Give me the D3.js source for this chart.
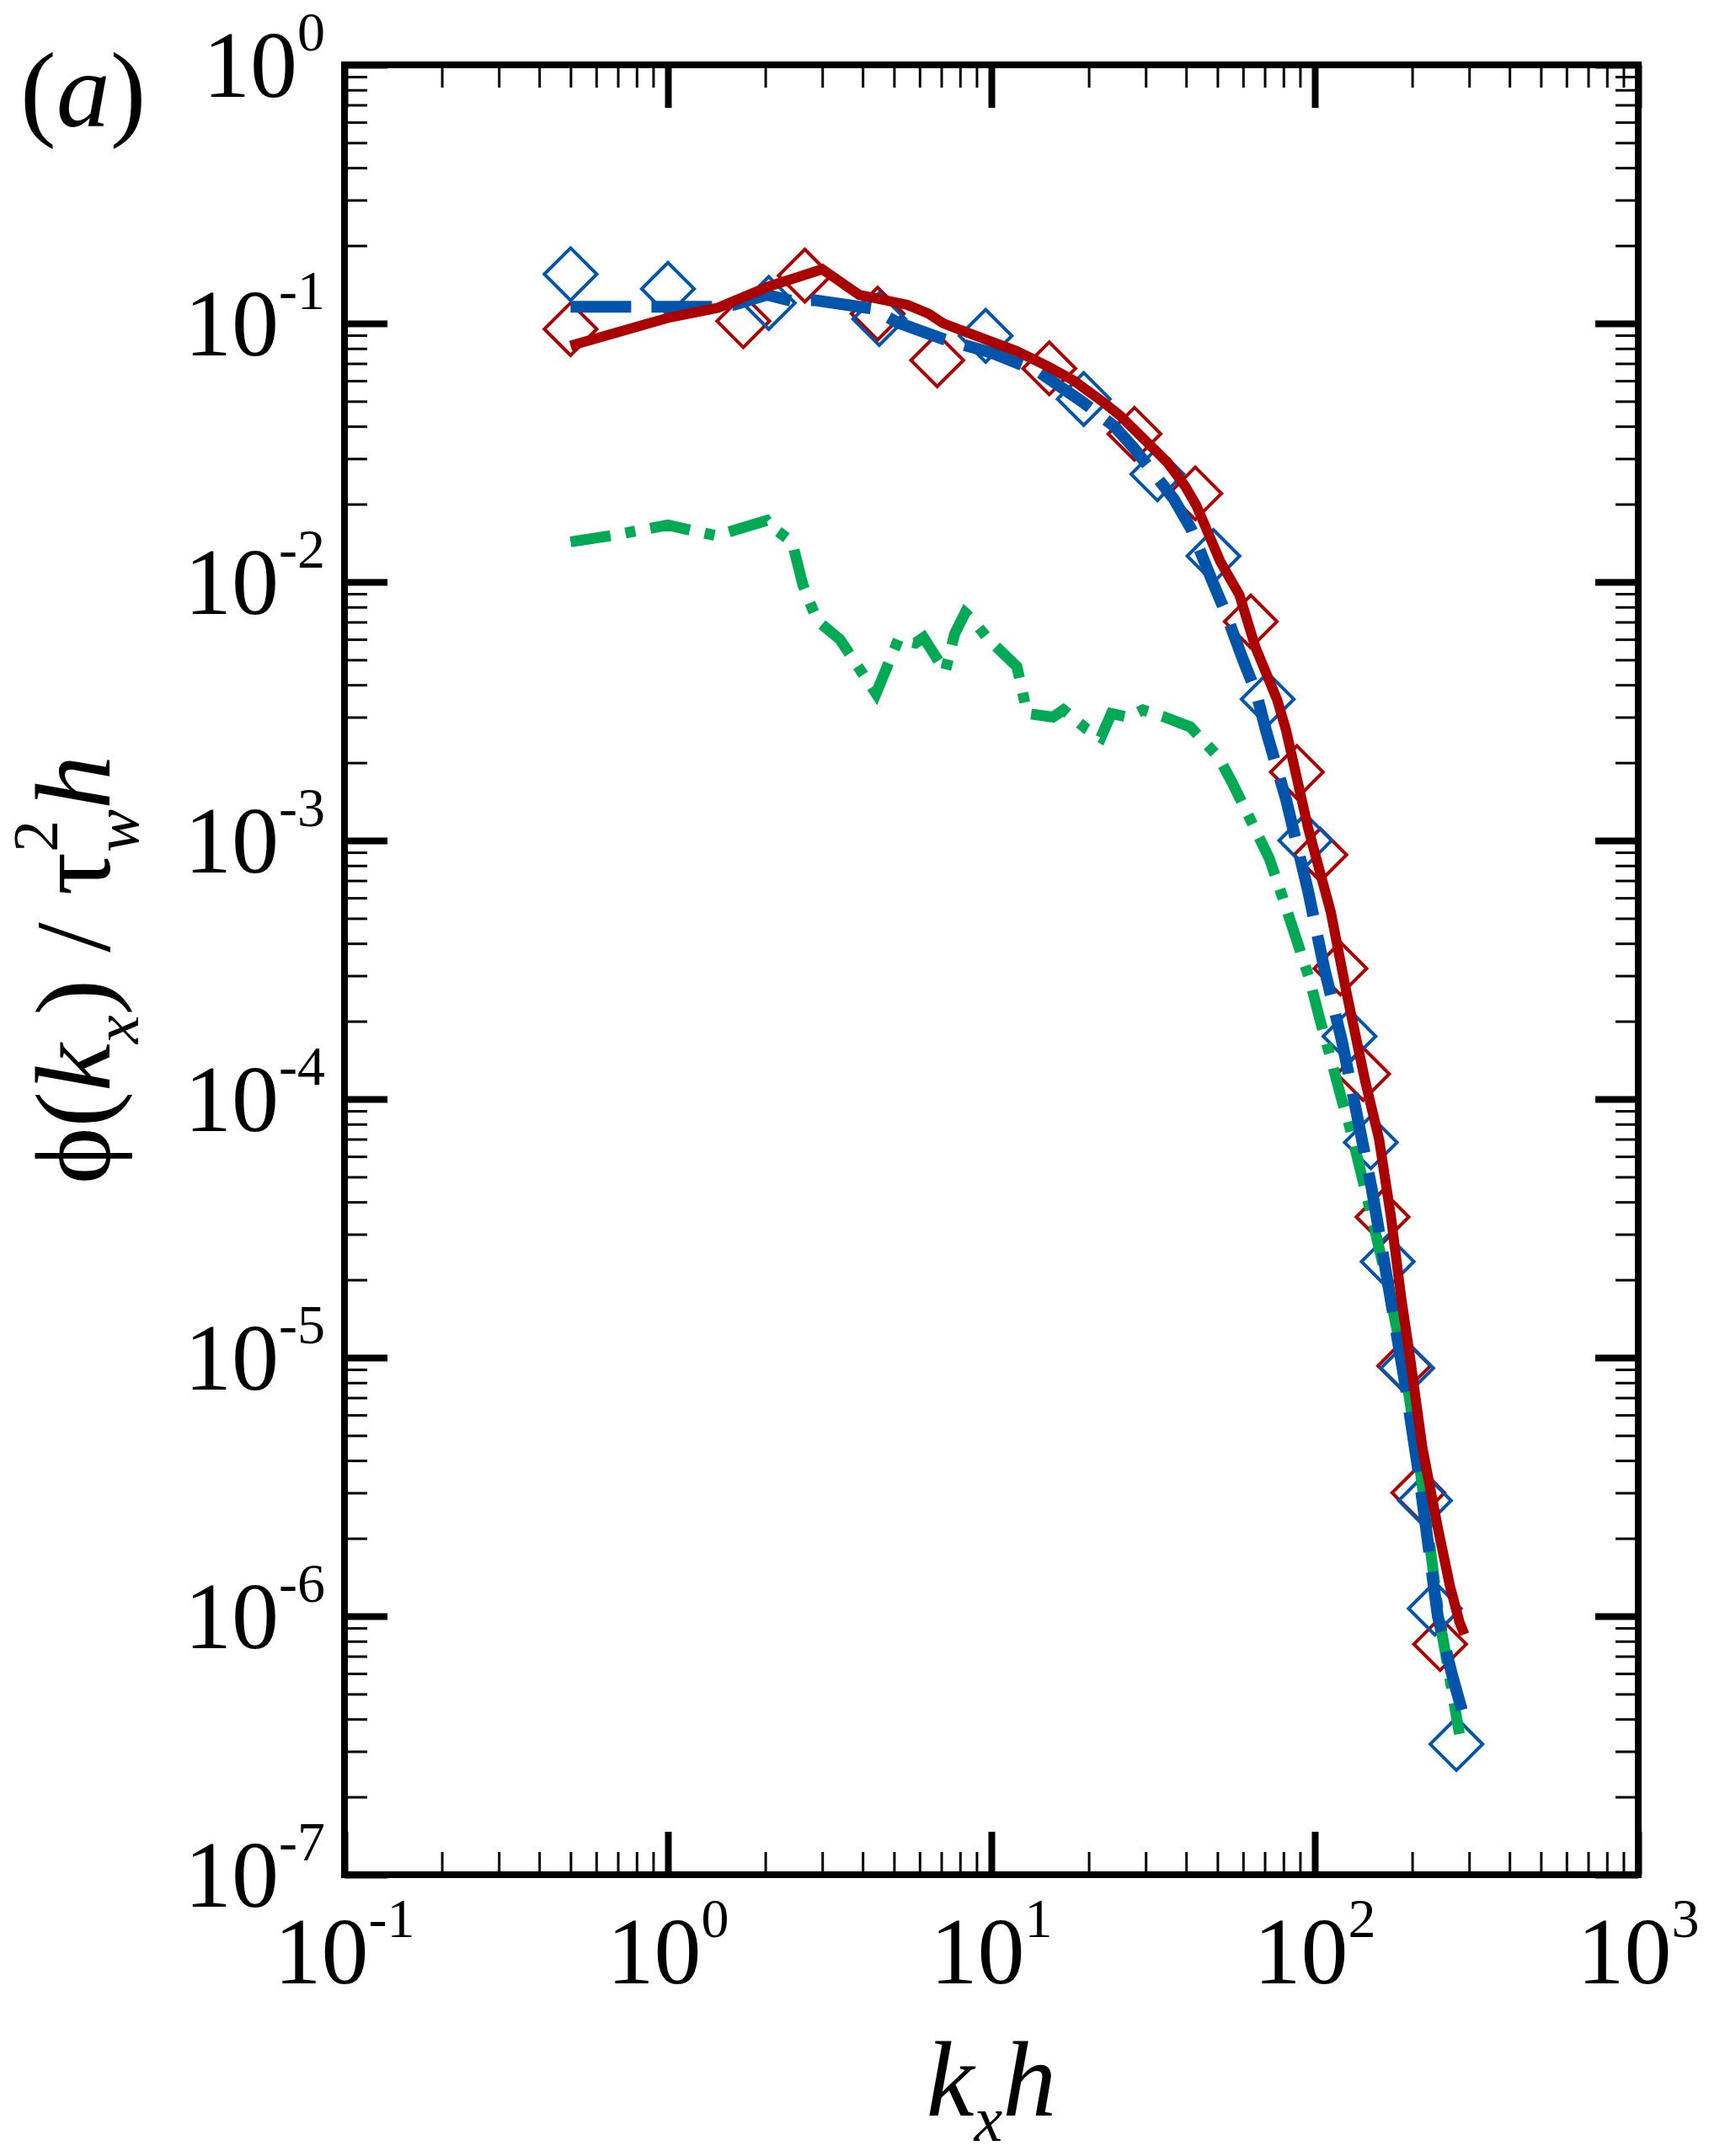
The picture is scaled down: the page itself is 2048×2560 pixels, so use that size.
<!DOCTYPE html>
<html lang="en">
<head>
<meta charset="utf-8">
<title>Spectrum</title>
<script src="https://cdnjs.cloudflare.com/ajax/libs/d3/7.8.5/d3.min.js"></script>
<style>
  body { margin: 0; background: #fff; }
  svg { display: block; }
</style>
</head>
<body>
<script>
// ---- data ----
var kxRed  = [0.5, 1.0, 1.43, 2.05, 3.0, 3.9, 5.5, 6.4, 7.1, 10, 12, 15, 18, 22, 25, 29.4, 35, 39.7, 43, 51, 58.5, 65.5, 76.5, 81.5, 95.3, 112, 126, 143, 158, 172, 185, 197, 215, 240, 262, 280, 290];
var phiRed = [0.082, 0.105, 0.115, 0.139, 0.162, 0.129, 0.118, 0.109, 0.100, 0.085, 0.078, 0.068, 0.060, 0.050, 0.044, 0.036, 0.029, 0.0235, 0.0198, 0.012, 0.0089, 0.0056, 0.0035, 0.00267, 0.00112, 0.00053, 0.00025, 0.000118, 7.0e-5, 3.5e-5, 1.7e-5, 1.0e-5, 4.5e-6, 2.2e-6, 1.3e-6, 9.5e-7, 8.5e-7];

var kxBlue  = [0.5, 1.37, 1.6, 2.02, 2.42, 2.84, 4.3, 5.1, 7.1, 10, 14, 19, 24, 27.7, 32, 36.6, 41.5, 48.3, 53, 60, 66, 70.6, 81.5, 95.3, 107, 121, 134, 150, 170, 190, 210, 240, 265, 290];
var phiBlue = [0.116, 0.116, 0.118, 0.129, 0.122, 0.123, 0.114, 0.101, 0.087, 0.077, 0.065, 0.050, 0.040, 0.0327, 0.026, 0.021, 0.016, 0.010, 0.0076, 0.0050, 0.0037, 0.00267, 0.00144, 0.00064, 0.00032, 0.00017, 9.1e-5, 4.5e-5, 1.8e-5, 8e-6, 3.5e-6, 1e-6, 6e-7, 4e-7];

var kxGreen  = [0.5, 0.665, 1.0, 1.19, 1.41, 2.02, 2.1, 2.42, 2.61, 2.89, 3.4, 3.83, 4.4, 4.86, 5.16, 5.83, 6.17, 7.2, 7.7, 8.3, 8.6, 9.8, 12, 12.9, 15.5, 16.7, 19.7, 21.8, 23.5, 26.5, 29.4, 34.4, 41.2, 50.4, 55.6, 62.7, 72.4, 79.6, 88, 96.4, 104, 112, 121, 129, 150, 170, 190, 210, 242, 260, 280];
var phiGreen = [0.0143, 0.0151, 0.0166, 0.0158, 0.0151, 0.0173, 0.0163, 0.0143, 0.0098, 0.0071, 0.0060, 0.0048, 0.0037, 0.0050, 0.0060, 0.0058, 0.0061, 0.0045, 0.0063, 0.0076, 0.0073, 0.0060, 0.0047, 0.0031, 0.0030, 0.0032, 0.0027, 0.0025, 0.0031, 0.0030, 0.0032, 0.0030, 0.00275, 0.0021, 0.00167, 0.00123, 0.00085, 0.0006, 0.00041, 0.00029, 0.0002, 0.000144, 0.0001, 7.6e-5, 3.5e-5, 1.8e-5, 9e-6, 4e-6, 1e-6, 6e-7, 3.5e-7];

var kxRedMk  = [0.5, 1.71, 2.65, 4.45, 6.8, 15.1, 27.7, 42.7, 63.4, 88, 104, 120, 141, 162, 189, 209, 244];
var phiRedMk = [0.095, 0.102, 0.153, 0.109, 0.072, 0.067, 0.0374, 0.022, 0.00703, 0.00184, 0.00088, 0.00032, 0.000125, 3.5e-5, 9.3e-6, 3.0e-6, 7.8e-7];

var kxBlueMk  = [0.5, 1.0, 2.05, 4.5, 9.6, 19.3, 32.6, 48.6, 71.5, 93.5, 128, 149, 168, 193, 219, 235, 274];
var phiBlueMk = [0.155, 0.136, 0.12, 0.104, 0.0895, 0.051, 0.0261, 0.0126, 0.00352, 0.001, 0.000175, 6.8e-5, 2.35e-5, 9.1e-6, 2.8e-6, 1.07e-6, 3.2e-7];

var xMajor = [0.1, 1, 10, 100, 1000];
var xExp   = ["-1", "0", "1", "2", "3"];
var yMajor = [1, 1e-1, 1e-2, 1e-3, 1e-4, 1e-5, 1e-6, 1e-7];
var yExp   = ["0", "-1", "-2", "-3", "-4", "-5", "-6", "-7"];

// ---- layout ----
var W = 2048, H = 2560;
var pLeft = 409, pRight = 1945, pTop = 77, pBottom = 2226;
var serif = "'Liberation Serif', 'Times New Roman', Times, serif";
var red = "#aa0000", blue = "#0055aa", green = "#00aa55";

var svg = d3.select("body").append("svg")
  .attr("width", W).attr("height", H);

var x = d3.scaleLog().domain([0.1, 1000]).range([pLeft, pRight]);
var y = d3.scaleLog().domain([1e-7, 1]).range([pBottom, pTop]);

var isMajor = function(v) { return Math.abs(Math.log10(v) - Math.round(Math.log10(v))) < 1e-6; };
var xMinor = x.ticks().filter(function(v) { return !isMajor(v); });
var yMinor = y.ticks().filter(function(v) { return !isMajor(v); });

// ---- axes (ticks inward on all four sides) ----
function drawAxis(axisFn, scale, transform, values, size, width) {
  var g = svg.append("g")
    .attr("transform", transform)
    .call(axisFn(scale).tickValues(values).tickSize(-size).tickSizeOuter(0).tickFormat(function() { return ""; }));
  g.select(".domain").remove();
  g.selectAll(".tick line").attr("stroke", "#000").attr("stroke-width", width);
}
[[d3.axisBottom, x, "translate(0," + pBottom + ")"],
 [d3.axisTop, x, "translate(0," + pTop + ")"]].forEach(function(a) {
  drawAxis(a[0], a[1], a[2], xMinor, 27, 3);
  drawAxis(a[0], a[1], a[2], xMajor, 51, 8);
});
[[d3.axisLeft, y, "translate(" + pLeft + ",0)"],
 [d3.axisRight, y, "translate(" + pRight + ",0)"]].forEach(function(a) {
  drawAxis(a[0], a[1], a[2], yMinor, 27, 3);
  drawAxis(a[0], a[1], a[2], yMajor, 51, 8);
});

svg.append("rect")
  .attr("x", pLeft).attr("y", pTop)
  .attr("width", pRight - pLeft).attr("height", pBottom - pTop)
  .attr("fill", "none").attr("stroke", "#000").attr("stroke-width", 8);

// ---- tick labels ----
xMajor.forEach(function(v, i) {
  var t = svg.append("text")
    .attr("x", x(v)).attr("y", 2355)
    .attr("text-anchor", "middle")
    .attr("font-family", serif).attr("font-size", 112);
  t.append("tspan").text("10");
  t.append("tspan").attr("font-size", 66).attr("dy", -55).text(xExp[i]);
});
yMajor.forEach(function(v, i) {
  var t = svg.append("text")
    .attr("x", 386).attr("y", y(v) + 38)
    .attr("text-anchor", "end")
    .attr("font-family", serif).attr("font-size", 112);
  t.append("tspan").text("10");
  t.append("tspan").attr("font-size", 66).attr("dy", -55).text(yExp[i]);
});

// ---- axis titles ----
var xl = svg.append("text")
  .attr("x", (pLeft + pRight) / 2).attr("y", 2512)
  .attr("text-anchor", "middle")
  .attr("font-family", serif).attr("font-size", 128).attr("font-style", "italic");
xl.append("tspan").text("k");
xl.append("tspan").attr("font-size", 76).attr("dy", 30).text("x");
xl.append("tspan").attr("dy", -30).text("h");

var yl = svg.append("text")
  .attr("transform", "translate(130," + ((pTop + pBottom) / 2) + ") rotate(-90)")
  .attr("text-anchor", "middle")
  .attr("font-family", serif).attr("font-size", 128);
yl.append("tspan").text("\u03d5(");
yl.append("tspan").attr("font-style", "italic").text("k");
yl.append("tspan").attr("font-style", "italic").attr("font-size", 76).attr("dy", 34).text("x");
yl.append("tspan").attr("dy", -34).text(") / \u03c4");
yl.append("tspan").attr("font-size", 76).attr("dy", -62).text("2");
yl.append("tspan").attr("font-style", "italic").attr("font-size", 76).attr("dx", -38).attr("dy", 96).text("w");
yl.append("tspan").attr("font-style", "italic").attr("dy", -34).text("h");

var pl = svg.append("text")
  .attr("x", 24).attr("y", 150)
  .attr("font-family", serif).attr("font-size", 128);
pl.append("tspan").text("(");
pl.append("tspan").attr("font-style", "italic").text("a");
pl.append("tspan").text(")");

// ---- data ----
var plot = svg.append("g");
var line = d3.line()
  .x(function(d) { return x(d[0]); })
  .y(function(d) { return y(d[1]); });
var diamond = d3.symbol().type(d3.symbolSquare).size(1936);

function drawMarkers(kx, phi, color) {
  plot.append("g").selectAll("path")
    .data(d3.zip(kx, phi))
    .enter()
    .append("path")
    .attr("d", diamond)
    .attr("transform", function(d) { return "translate(" + x(d[0]) + "," + y(d[1]) + ") rotate(45)"; })
    .attr("fill", "none")
    .attr("stroke", color)
    .attr("stroke-width", 4);
}
function drawLine(kx, phi, color, width, dash) {
  plot.append("path")
    .datum(d3.zip(kx, phi))
    .attr("d", line)
    .attr("fill", "none")
    .attr("stroke", color)
    .attr("stroke-width", width)
    .attr("stroke-linejoin", "miter")
    .attr("stroke-linecap", "butt")
    .attr("stroke-dasharray", dash);
}

drawMarkers(kxRedMk, phiRedMk, red);
drawMarkers(kxBlueMk, phiBlueMk, blue);
drawLine(kxGreen, phiGreen, green, 13, "48,18,12,18");
drawLine(kxBlue, phiBlue, blue, 14, "72,24");
drawLine(kxRed, phiRed, red, 12, null);
</script>
</body>
</html>
